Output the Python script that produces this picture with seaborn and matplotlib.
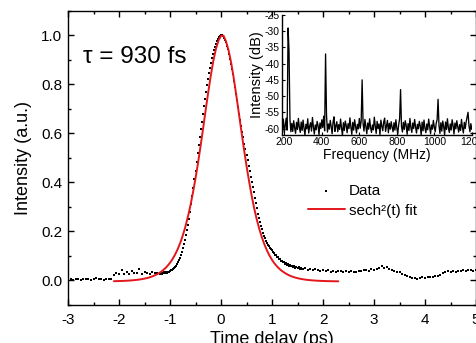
import numpy as np
import matplotlib
matplotlib.use("Agg")
import matplotlib.pyplot as plt
import seaborn as sns
from matplotlib.ticker import MultipleLocator

sns.set_theme(style="ticks", rc={
    "axes.edgecolor": "black", "xtick.color": "black", "ytick.color": "black",
    "text.color": "black", "axes.labelcolor": "black", "axes.linewidth": 1.0,
})
plt.rcParams['font.family'] = ['Liberation Sans', 'DejaVu Sans']
plt.rcParams['axes.unicode_minus'] = False

# ---------------- autocorrelation trace ----------------
# coarse left background, t = -3.00 ... -1.25 step 0.05
t_left = np.round(np.arange(-3.00, -1.2499, 0.05), 2)
i_left = [0.004, 0.006, 0.002, 0.005, 0.008, 0.003, 0.006, 0.004, 0.007, 0.002,
          0.005, 0.009, 0.004, 0.006, 0.003, 0.007, 0.005, 0.008,
          0.022, 0.030, 0.026, 0.042, 0.028, 0.033, 0.025, 0.038, 0.029, 0.031,
          0.045, 0.027, 0.034, 0.030, 0.026, 0.036, 0.029, 0.032]
# pulse region, t = -1.20 ... 1.60 step 0.02
t_mid = np.round(np.arange(-1.20, 1.6001, 0.02), 2)
i_mid = [0.028, 0.031, 0.027, 0.030, 0.033, 0.031, 0.034, 0.032, 0.036, 0.035,
         0.038, 0.041, 0.044, 0.048, 0.052, 0.056, 0.061, 0.067, 0.074, 0.082,
         0.092, 0.103, 0.116, 0.131, 0.148, 0.166, 0.186, 0.206, 0.228, 0.252,
         0.280, 0.311, 0.344, 0.378, 0.413, 0.448, 0.484, 0.518, 0.552, 0.585,
         0.617, 0.648, 0.680, 0.711, 0.741, 0.770, 0.797, 0.823, 0.847, 0.868,
         0.888, 0.906, 0.922, 0.938, 0.952, 0.964, 0.975, 0.985, 0.992, 0.997,
         1.000, 0.999, 0.996, 0.990, 0.982, 0.971, 0.958, 0.942, 0.925, 0.905,
         0.884, 0.862, 0.840, 0.815, 0.788, 0.762, 0.735, 0.707, 0.680, 0.655,
         0.630, 0.607, 0.583, 0.558, 0.535, 0.512, 0.490, 0.467, 0.445, 0.422,
         0.400, 0.380, 0.360, 0.338, 0.316, 0.294, 0.273, 0.255, 0.238, 0.222,
         0.208, 0.195, 0.183, 0.172, 0.162, 0.153, 0.146, 0.140, 0.134, 0.128,
         0.124, 0.115, 0.113, 0.104, 0.103, 0.096, 0.095, 0.088, 0.087, 0.081,
         0.081, 0.074, 0.075, 0.069, 0.070, 0.064, 0.066, 0.060, 0.062, 0.057,
         0.059, 0.054, 0.057, 0.052, 0.055, 0.050, 0.053, 0.048, 0.051, 0.046,
         0.048]
# coarse right tail, t = 1.65 ... 5.00 step 0.05
t_right = np.round(np.arange(1.65, 5.0001, 0.05), 2)
i_right = [0.049, 0.044, 0.047, 0.041, 0.045, 0.043, 0.040, 0.044,
           0.038, 0.042, 0.036, 0.040, 0.035, 0.039, 0.037, 0.033, 0.038, 0.035,
           0.040, 0.036, 0.034, 0.039, 0.037, 0.041,
           0.043, 0.040, 0.046, 0.044, 0.048, 0.052, 0.058, 0.050, 0.053, 0.047,
           0.044, 0.040, 0.036, 0.033, 0.028, 0.024, 0.020, 0.016,
           0.012, 0.010, 0.008, 0.011, 0.013, 0.010, 0.014, 0.016, 0.015, 0.018,
           0.020, 0.024,
           0.030, 0.034, 0.037, 0.035, 0.039, 0.036, 0.040, 0.038, 0.042, 0.039,
           0.041, 0.044, 0.040, 0.043]

# sech^2 fit curve, t = -2.10 ... 2.30 step 0.05
t_fit = np.round(np.arange(-2.10, 2.3001, 0.05), 2)
i_fit = [-0.0030, -0.0026, -0.0023, -0.0020, -0.0015, -0.0010, -0.0003, 0.0004, 0.0014, 0.0025,
         0.0039, 0.0055, 0.0076, 0.0099, 0.0128, 0.0164, 0.0207, 0.0258, 0.0320, 0.0394,
         0.0484, 0.0592, 0.0721, 0.0875, 0.1056, 0.1275, 0.153, 0.183, 0.218, 0.259,
         0.305, 0.358, 0.416, 0.480, 0.549, 0.621, 0.696, 0.768, 0.836, 0.896,
         0.944, 0.978, 0.998, 0.998, 0.974, 0.937, 0.887, 0.825, 0.755, 0.682,
         0.608, 0.536, 0.468, 0.405, 0.347, 0.295, 0.250, 0.211, 0.177, 0.148,
         0.123, 0.102, 0.084, 0.069, 0.057, 0.0465, 0.038, 0.031, 0.0247, 0.0197,
         0.0156, 0.0122, 0.0094, 0.0071, 0.0052, 0.0036, 0.0022, 0.0012, 0.0003, -0.0005,
         -0.0011, -0.0016, -0.0020, -0.0024, -0.0027, -0.0029, -0.0031, -0.0033, -0.0034]

# ---------------- RF spectrum (inset) ----------------
freq = np.arange(185, 1200.1, 5)
spec_db = [-58.5, -60.2, -57.1, -61.3, -59.0, -56.8, -60.5, -29.0, -36.0, -57.2,
           -61.0, -58.4, -60.9, -57.6, -59.8, -61.5, -58.1, -60.3, -56.9, -59.6,
           -61.2, -58.0, -60.6, -57.4, -59.9, -62.0, -58.7, -60.1, -57.0, -61.4,
           -59.3, -58.2, -60.8, -56.6, -59.5, -61.7, -58.9, -60.4, -57.8, -59.1,
           -61.9, -58.3, -60.0, -57.3, -59.7, -56.2, -60.7, -37.0, -55.8, -61.1,
           -58.6, -60.2, -57.5, -59.4, -61.6, -58.0, -56.4, -60.9, -59.2, -57.9,
           -61.0, -58.8, -60.3, -57.1, -59.8, -62.1, -58.2, -60.6, -57.7, -59.0,
           -61.3, -58.5, -60.0, -56.7, -59.6, -61.8, -58.1, -60.5, -57.3, -59.3,
           -61.4, -58.7, -60.1, -56.9, -59.9, -57.6, -45.0, -58.4, -60.8, -57.2,
           -59.5, -61.6, -58.3, -60.2, -57.0, -59.7, -61.2, -58.9, -60.4, -56.5,
           -59.2, -61.5, -57.8, -60.0, -58.6, -61.9, -57.4, -59.3, -60.7, -58.0,
           -56.8, -60.9, -59.1, -57.5, -61.3, -58.4, -60.2, -57.9, -59.6, -61.0,
           -58.2, -60.5, -57.3, -59.8, -61.7, -58.8, -57.0, -48.0, -59.4, -61.1,
           -58.1, -60.3, -57.6, -59.0, -61.8, -58.5, -60.6, -56.9, -59.7, -61.2,
           -58.3, -60.0, -57.2, -59.5, -61.4, -58.7, -60.1, -57.8, -59.2, -62.0,
           -58.0, -60.7, -57.4, -59.9, -61.3, -58.6, -60.4, -57.1, -59.3, -61.6,
           -58.9, -60.2, -57.5, -59.6, -61.0, -58.4, -57.3, -51.0, -59.1, -61.5,
           -58.2, -60.8, -57.7, -59.4, -61.9, -58.0, -60.3, -57.0, -59.8, -61.2,
           -58.6, -60.5, -57.3, -59.0, -61.7, -58.3, -60.1, -57.6, -59.5, -61.1,
           -58.8, -60.6, -57.2, -59.7, -61.4, -58.1, -60.0, -57.9, -56.4, -55.0,
           -59.2, -61.0, -58.5, -60.3]

t_data = np.concatenate([t_left, t_mid, t_right])
i_data = np.concatenate([i_left, i_mid, i_right])

W, H = 476, 343
fig = plt.figure(figsize=(W / 100, H / 100), dpi=100)
ax = fig.add_axes([68 / W, 1 - 305 / H, (476 - 68) / W, (305 - 10.7) / H])

sns.scatterplot(x=t_data, y=i_data, ax=ax, marker='s', s=3.0, color='black',
                linewidth=0, label='Data')
sns.lineplot(x=t_fit, y=i_fit, ax=ax, color='#e3161b', linewidth=1.4,
             label='sech²(t) fit', sort=False)

ax.set_xlim(-3, 5)
ax.set_ylim(-0.1, 1.1)
ax.xaxis.set_major_locator(MultipleLocator(1))
ax.xaxis.set_minor_locator(MultipleLocator(0.5))
ax.yaxis.set_major_locator(MultipleLocator(0.2))
ax.yaxis.set_minor_locator(MultipleLocator(0.1))
ax.tick_params(which='both', direction='in', top=True, right=True, labelsize=11, width=1)
ax.tick_params(which='major', length=4.5)
ax.tick_params(which='minor', length=2.5)
ax.tick_params(axis='x', pad=6)
ax.tick_params(axis='y', pad=4)
ax.set_xlabel('Time delay (ps)', fontsize=13, labelpad=3)
ax.set_ylabel('Intensity (a.u.)', fontsize=13, labelpad=7)

ax.text(-2.7, 0.91, 'τ = 930 fs', fontsize=17.5, ha='left', va='center')

ax.legend(loc='upper left', bbox_to_anchor=(0.588, 0.41), frameon=False, fontsize=11,
          handlelength=2.4, handletextpad=0.3, labelspacing=0.35, borderpad=0,
          borderaxespad=0, markerscale=0.9)

# inset
axin = fig.add_axes([281.7 / W, 1 - 135 / H, (471.8 - 281.7) / W, 120 / H])
axin.set_facecolor('none')
sns.lineplot(x=freq, y=spec_db, ax=axin, color='black', linewidth=0.95)
axin.set_xlim(186, 1200)
axin.set_ylim(-62, -25)
axin.xaxis.set_major_locator(MultipleLocator(200))
axin.yaxis.set_major_locator(MultipleLocator(5))
axin.spines['top'].set_visible(False)
axin.spines['right'].set_visible(False)
axin.tick_params(which='both', direction='in', labelsize=7.5, length=2, width=0.8, pad=1.5)
axin.set_xlabel('Frequency (MHz)', fontsize=10, labelpad=1)
axin.set_ylabel('Intensity (dB)', fontsize=10.5, labelpad=0)

fig.savefig('out.png', dpi=100)
